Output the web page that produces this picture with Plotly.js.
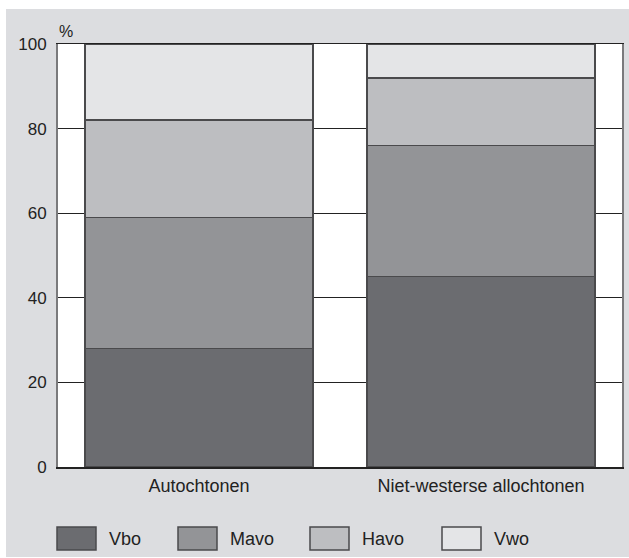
<!DOCTYPE html>
<html>
<head>
<meta charset="utf-8">
<script src="https://cdn.plot.ly/plotly-3.0.1.min.js"></script>
<style>
  html, body { margin: 0; padding: 0; background: #ffffff; }
  #chart { position: absolute; left: 6px; top: 9px; width: 623px; height: 548px; }
</style>
</head>
<body>
<div id="chart"></div>
<script>
// ---- Data ----
const categories = ["Autochtonen", "Niet-westerse allochtonen"];
const seriesNames = ["Vbo", "Mavo", "Havo", "Vwo"];
const vbo  = [28, 45];
const mavo = [31, 31];
const havo = [23, 16];
const vwo  = [18, 8];
const yTickVals = [0, 20, 40, 60, 80, 100];
const yTickText = ["0", "20", "40", "60", "80", "100"];
const yUnit = "%";

// ---- Styles ----
const seriesValues = [vbo, mavo, havo, vwo];
const seriesColors = ["#6b6c70", "#939497", "#bdbec1", "#e4e5e7"];
const edgeColor = "#4a4a4c";
const textColor = "#222222";
const bgColor = "#dcdde0";
const fontFamily = "'Liberation Sans', Arial, sans-serif";

const traces = seriesNames.map((name, i) => ({
  type: "bar",
  name: name,
  x: categories,
  y: seriesValues[i],
  marker: { color: seriesColors[i], line: { color: edgeColor, width: 1.5 } },
  showlegend: false,
  hoverinfo: "x+y+name"
}));

// custom legend (large swatches like the reference)
const plotW = 564, plotH = 423, plotLeft = 58, plotBottom = 467;
const legendLeftPx = [57, 178, 310, 442];
const legendTopPx = 527, legendBotPx = 550, swatchW = 39, textGap = 11;
const px2x = p => (p - plotLeft) / plotW;
const py2y = p => (plotBottom - p) / plotH;

const shapes = [];
const annotations = [];
seriesNames.forEach((name, i) => {
  shapes.push({
    type: "rect", xref: "paper", yref: "paper",
    x0: px2x(legendLeftPx[i]), x1: px2x(legendLeftPx[i] + swatchW),
    y0: py2y(legendBotPx), y1: py2y(legendTopPx),
    fillcolor: seriesColors[i], line: { color: edgeColor, width: 1.5 }
  });
  annotations.push({
    xref: "paper", yref: "paper",
    x: px2x(legendLeftPx[i] + swatchW + textGap), y: py2y((legendTopPx + legendBotPx) / 2),
    xanchor: "left", yanchor: "middle", showarrow: false,
    text: name, font: { family: fontFamily, size: 18, color: textColor }
  });
});
annotations.push({
  xref: "paper", yref: "paper",
  x: px2x(66), y: py2y(32), xanchor: "center", yanchor: "middle", showarrow: false,
  text: yUnit, font: { family: fontFamily, size: 16, color: textColor }
});

const layout = {
  width: 623, height: 548,
  margin: { l: 52, r: 7, t: 35, b: 90 },
  paper_bgcolor: bgColor,
  plot_bgcolor: "#ffffff",
  barmode: "stack",
  bargap: 0.19,
  font: { family: fontFamily, color: textColor },
  xaxis: {
    type: "category",
    showline: true, linecolor: "#222222", linewidth: 1.5, mirror: true,
    showgrid: false, ticks: "",
    tickfont: { family: fontFamily, size: 18, color: textColor },
    ticklabelstandoff: 2
  },
  yaxis: {
    range: [0, 100],
    tickvals: yTickVals, ticktext: yTickText,
    showline: true, linecolor: "#7a7a7c", linewidth: 2, mirror: true,
    showgrid: true, gridcolor: "#222222", gridwidth: 1,
    zeroline: false, ticks: "",
    tickfont: { family: fontFamily, size: 17, color: textColor },
    ticklabelstandoff: 6
  },
  shapes: shapes,
  annotations: annotations
};

Plotly.newPlot("chart", traces, layout, { displayModeBar: false, staticPlot: true });
</script>
</body>
</html>
